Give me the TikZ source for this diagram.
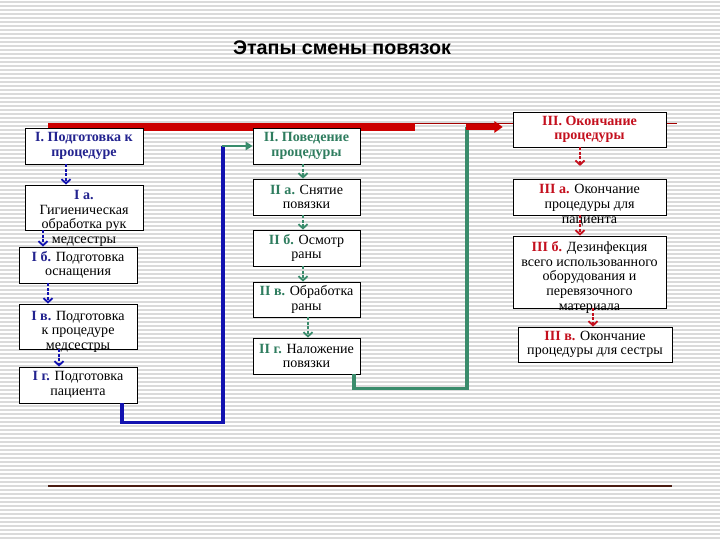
\documentclass[tikz,border=0pt]{standalone}
\usepackage{fontspec}
\setmainfont{Liberation Serif}
\newfontfamily\titlefont{Liberation Sans}
\usetikzlibrary{arrows.meta,positioning}
\definecolor{NavyI}{HTML}{23238F}
\definecolor{BlueI}{HTML}{1212B0}
\definecolor{TealII}{HTML}{2F7D5F}
\definecolor{GreenII}{HTML}{3A8C6C}
\definecolor{RedIII}{HTML}{C4101E}
\definecolor{BarRed}{HTML}{CC0000}
\definecolor{Rule}{HTML}{DADADA}
\definecolor{BaseLine}{HTML}{4A1C12}
\tikzset{
  stage/.style={draw,fill=white,line width=.6pt,inner sep=1pt,align=center,
    font=\fontsize{10}{10.4}\selectfont},
  wh/.style 2 args={minimum width=#1*0.025cm,minimum height=#2*0.025cm},
  stagetxt/.style={inner sep=0pt,align=center,font=\fontsize{10}{10.4}\selectfont},
  flow/.style={#1,line width=2pt,dash pattern=on 2pt off 1.2pt,
    -{Straight Barb[length=3pt,width=6.5pt,line width=1.3pt]}},
  link/.style={#1,line width=2.2pt},
}
\begin{document}
\begin{tikzpicture}[x=0.025cm,y=-0.025cm]
  \useasboundingbox (0,0) rectangle (720,540);
  % ruled background
  \foreach \y in {2,6,...,538}
    \draw[Rule,line width=.9pt] (0,\y) -- (720,\y);
  \node[font=\titlefont\bfseries\fontsize{14}{16}\selectfont] (title) at (342,48) {Этапы смены повязок};
  % template lines
  \draw[BarRed!80!black,line width=.7pt] (48,123.5) -- (677,123.5);
  \fill[BarRed] (48,123) rectangle (415,131);
  \draw[BaseLine,line width=1pt] (48,486) -- (672,486);

  % stage I
  \node[stage,wh={118}{36}] (I) at (84,146) {\textcolor{NavyI}{\textbf{I. Подготовка к}}\\\textcolor{NavyI}{\textbf{процедуре}}};
  \node[stage,wh={118}{45},label={[stagetxt,anchor=north,yshift=-4pt]north:{\textcolor{NavyI}{\textbf{I а.}}\\Гигиеническая\\обработка рук\\медсестры}}] (Ia) at (84,207.5) {};
  \node[stage,wh={118}{36}] (Ib) at (78,265) {\textcolor{NavyI}{\textbf{I б.}} Подготовка\\оснащения};
  \node[stage,wh={118}{45},label={[stagetxt,anchor=north,yshift=-5pt]north:{\textcolor{NavyI}{\textbf{I в.}} Подготовка\\к процедуре\\медсестры}}] (Iv) at (78,326.5) {};
  \node[stage,wh={118}{36}] (Ig) at (78,385) {\textcolor{NavyI}{\textbf{I г.}} Подготовка\\пациента};

  % stage II
  \node[stage,wh={107}{36}] (II) at (306.5,146) {\textcolor{TealII}{\textbf{II. Поведение}}\\\textcolor{TealII}{\textbf{процедуры}}};
  \node[stage,wh={107}{36}] (IIa) at (306.5,197) {\textcolor{TealII}{\textbf{II а.}} Снятие\\повязки};
  \node[stage,wh={107}{36}] (IIb) at (306.5,248) {\textcolor{TealII}{\textbf{II б.}} Осмотр\\раны};
  \node[stage,wh={107}{35}] (IIv) at (306.5,299.5) {\textcolor{TealII}{\textbf{II в.}} Обработка\\раны};
  \node[stage,wh={107}{36}] (IIg) at (306.5,356) {\textcolor{TealII}{\textbf{II г.}} Наложение\\повязки};

  % stage III
  \node[stage,wh={153}{35}] (III) at (589.5,129.5) {\textcolor{RedIII}{\textbf{III. Окончание}}\\\textcolor{RedIII}{\textbf{процедуры}}};
  \node[stage,wh={153}{36},label={[stagetxt,anchor=north,yshift=-4pt]north:{\textcolor{RedIII}{\textbf{III а.}} Окончание\\процедуры для\\пациента}}] (IIIa) at (589.5,197) {};
  \node[stage,wh={153}{72},label={[stagetxt,anchor=north,yshift=-4pt]north:{\textcolor{RedIII}{\textbf{III б.}} Дезинфекция\\всего использованного\\оборудования и\\перевязочного\\материала}}] (IIIb) at (589.5,272) {};
  \node[stage,wh={154}{35}] (IIIv) at (595,344.5) {\textcolor{RedIII}{\textbf{III в.}} Окончание\\процедуры для сестры};

  % steps inside a stage
  \draw[flow=BlueI] (I.south -| 66,0) -- (Ia.north -| 66,0);
  \draw[flow=BlueI] (Ia.south -| 43,0) -- (Ib.north -| 43,0);
  \draw[flow=BlueI] (Ib.south -| 48,0) -- (Iv.north -| 48,0);
  \draw[flow=BlueI] (Iv.south -| 59,0) -- (Ig.north -| 59,0);
  \draw[flow=GreenII] (II.south -| 303,0) -- (IIa.north -| 303,0);
  \draw[flow=GreenII] (IIa.south -| 303,0) -- (IIb.north -| 303,0);
  \draw[flow=GreenII] (IIb.south -| 303,0) -- (IIv.north -| 303,0);
  \draw[flow=GreenII] (IIv.south -| 308,0) -- (IIg.north -| 308,0);
  \draw[flow=RedIII,shorten >=9pt] (III.south -| 580,0) -- (IIIa.north -| 580,0);
  \draw[flow=RedIII] (IIIa.south -| 580,0) -- (IIIb.north -| 580,0);
  \draw[flow=RedIII] (IIIb.south -| 593,0) -- (IIIv.north -| 593,0);

  % from stage to stage
  \draw[link=BlueI] (Ig.south -| 122,0) -- ++(0,19) -| (II.west -| 223,0);
  \draw[GreenII,line width=1.5pt,-{Triangle[length=5pt,width=6pt]}] (II.west -| 222,0) -- (II.west);
  \draw[link=GreenII] (IIg.south -| 354,0) -- ++(0,14) -| (467,127);
  \draw[BarRed,line width=3.6pt,shorten >=7pt,-{Triangle[length=6pt,width=8pt]}] (465.5,127) -- (III.west |- 0,127);
\end{tikzpicture}
\end{document}
